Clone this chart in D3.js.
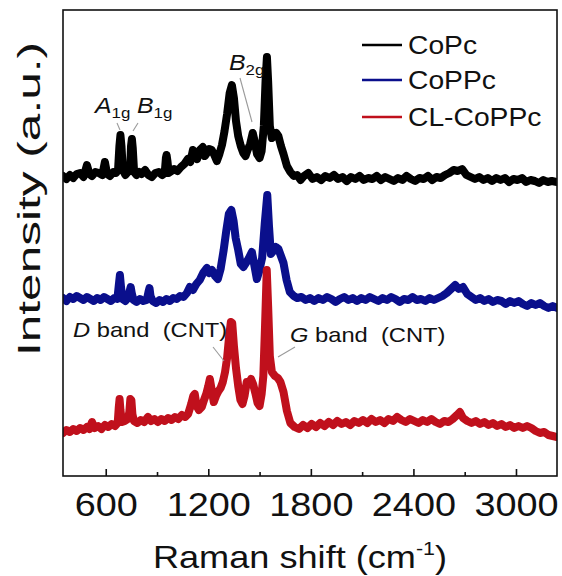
<!DOCTYPE html>
<html><head><meta charset="utf-8">
<script src="https://cdn.jsdelivr.net/npm/d3@7"></script>
<style>body{margin:0;background:#fff}svg{display:block}text{font-family:"Liberation Sans",Arial,sans-serif;fill:#111}</style>
</head><body><svg id="c" width="562" height="576"></svg>
<script>
// ---- data (Raman shift cm-1, stacked intensity a.u.) ----
const seriesNames = ["CoPc", "CoPPc", "CL-CoPPc"];
const seriesColors = ["#000000", "#0a0f8c", "#c0101c"];
const xTicks = [600, 1200, 1800, 2400, 3000];
const xMinorTicks = [900, 1500, 2100, 2700];
const copc = [[350,300],[370,297],[390,301],[410,298],[430,302],[450,303],[470,299],[490,311],[505,302],[520,300],[540,304],[560,303],[580,301],[595,314],[608,302],[625,300],[645,304],[660,303],[672,306],[680,330],[686,341],[692,330],[700,306],[715,301],[730,304],[742,305],[748,330],[753,337],[758,328],[766,304],[780,301],[795,304],[810,302],[830,306],[850,301],[870,299],[890,303],[910,304],[930,301],[945,303],[952,318],[956,321],[961,315],[968,303],[985,305],[1000,307],[1020,305],[1040,309],[1060,312],[1080,317],[1095,314],[1110,326],[1122,320],[1135,317],[1150,326],[1168,329],[1180,320],[1192,323],[1205,327],[1220,326],[1235,321],[1250,315],[1265,322],[1280,331],[1295,345],[1310,362],[1325,383],[1338,391],[1350,378],[1362,355],[1375,340],[1390,330],[1405,323],[1418,320],[1430,326],[1445,332],[1460,343],[1472,334],[1485,322],[1500,318],[1512,325],[1525,350],[1535,395],[1543,419],[1550,395],[1560,350],[1572,338],[1585,340],[1598,343],[1610,340],[1625,330],[1640,322],[1660,310],[1680,304],[1700,300],[1720,301],[1740,296],[1760,300],[1785,303],[1810,297],[1835,299],[1860,296],[1885,300],[1910,298],[1935,301],[1960,297],[1985,299],[2010,295],[2035,299],[2060,297],[2085,300],[2110,296],[2135,298],[2160,297],[2185,300],[2210,296],[2235,299],[2260,297],[2285,295],[2310,298],[2335,296],[2360,300],[2385,297],[2410,295],[2435,298],[2460,297],[2485,300],[2510,296],[2535,299],[2560,298],[2585,301],[2610,303],[2635,306],[2660,305],[2685,307],[2710,301],[2735,299],[2760,297],[2785,299],[2810,296],[2835,298],[2860,295],[2885,298],[2910,296],[2935,298],[2960,294],[2985,297],[3010,296],[3035,298],[3060,294],[3085,296],[3110,295],[3135,293],[3160,296],[3185,294],[3210,295],[3240,294]];
const coppc = [[350,178],[370,175],[390,179],[410,177],[430,180],[450,178],[470,176],[490,179],[510,177],[530,175],[550,178],[570,176],[590,179],[610,177],[630,175],[650,178],[668,177],[676,190],[683,201],[690,188],[698,177],[715,175],[730,178],[740,185],[746,189],[752,183],[762,176],[780,174],[800,177],[820,175],[840,176],[850,184],[856,188],[862,180],[875,175],[895,173],[915,176],[935,174],[955,177],[975,175],[995,178],[1015,177],[1035,180],[1055,179],[1075,183],[1092,189],[1110,186],[1130,192],[1150,196],[1170,203],[1192,208],[1205,203],[1221,206],[1240,200],[1256,197],[1272,207],[1290,226],[1305,245],[1320,262],[1335,266],[1348,255],[1360,238],[1375,226],[1390,212],[1405,209],[1420,213],[1435,217],[1455,224],[1468,212],[1484,197],[1498,205],[1515,218],[1530,252],[1545,281],[1555,250],[1566,222],[1580,225],[1595,229],[1610,227],[1625,220],[1640,213],[1658,196],[1677,184],[1700,180],[1720,178],[1745,179],[1770,176],[1795,178],[1820,175],[1845,178],[1870,176],[1895,179],[1920,177],[1945,174],[1970,177],[1995,179],[2020,176],[2045,178],[2070,175],[2095,178],[2120,176],[2145,179],[2170,177],[2195,175],[2220,178],[2245,176],[2270,179],[2295,177],[2320,174],[2345,177],[2370,176],[2395,179],[2420,176],[2445,177],[2470,175],[2495,178],[2520,176],[2545,178],[2570,180],[2595,183],[2620,187],[2645,191],[2665,187],[2690,189],[2715,182],[2740,179],[2765,176],[2790,178],[2815,175],[2840,177],[2865,174],[2890,176],[2915,175],[2940,172],[2965,175],[2990,173],[3015,175],[3040,172],[3065,170],[3090,173],[3115,171],[3140,173],[3165,170],[3190,168],[3215,170],[3240,168]];
const clcoppc = [[350,43],[370,46],[390,44],[410,47],[430,45],[450,48],[470,46],[490,49],[505,47],[520,54],[535,48],[555,50],[575,47],[595,51],[615,49],[635,52],[655,50],[670,53],[676,68],[681,77],[686,66],[695,54],[712,55],[730,57],[738,64],[744,77],[750,76],[756,62],[765,55],[785,53],[805,56],[825,54],[847,59],[865,55],[885,57],[905,54],[925,57],[945,55],[965,58],[985,56],[1005,59],[1025,57],[1045,61],[1065,59],[1082,62],[1100,72],[1112,80],[1121,82],[1132,70],[1145,66],[1162,69],[1175,76],[1188,82],[1200,90],[1209,97],[1220,86],[1232,74],[1245,80],[1260,85],[1272,88],[1285,94],[1298,104],[1310,118],[1322,140],[1332,154],[1340,153],[1350,130],[1362,108],[1375,90],[1388,76],[1400,72],[1412,80],[1425,94],[1438,92],[1450,97],[1462,92],[1475,83],[1488,73],[1500,70],[1512,82],[1522,100],[1532,150],[1542,206],[1550,170],[1560,120],[1572,104],[1590,100],[1607,98],[1622,94],[1640,84],[1660,65],[1680,53],[1705,49],[1730,47],[1755,51],[1780,48],[1805,52],[1830,49],[1855,53],[1880,50],[1905,54],[1930,51],[1955,55],[1980,52],[2005,54],[2030,51],[2055,55],[2080,53],[2105,56],[2130,53],[2155,57],[2180,54],[2205,56],[2230,53],[2255,57],[2280,55],[2305,59],[2330,56],[2355,54],[2380,57],[2405,55],[2430,53],[2455,56],[2480,54],[2505,57],[2530,54],[2555,52],[2580,55],[2605,54],[2630,57],[2655,61],[2672,64],[2690,58],[2715,55],[2740,53],[2765,55],[2790,52],[2815,54],[2840,51],[2865,53],[2890,50],[2915,52],[2940,49],[2965,51],[2990,48],[3015,50],[3040,48],[3065,50],[3090,48],[3115,45],[3140,43],[3165,44],[3190,41],[3215,40],[3240,39]];
const seriesData = [copc, coppc, clcoppc];

// ---- layout ----
const svg = d3.select("#c");
const L = 63, R = 557, T = 10, B = 476;
const x = d3.scaleLinear().domain([350, 3240]).range([L, R]);
const y = d3.scaleLinear().domain([0, 466]).range([B, T]);
const HS = 1.13; // horizontal text stretch

svg.append("clipPath").attr("id","clp").append("rect")
  .attr("x", L).attr("y", T).attr("width", R - L).attr("height", B - T);

const line = d3.line().x(d => x(d[0])).y(d => y(d[1]));
const g = svg.append("g").attr("clip-path","url(#clp)");
seriesData.forEach((d, i) => {
  g.append("path").datum(d).attr("d", line).attr("fill","none")
    .attr("stroke", seriesColors[i]).attr("stroke-width", 8)
    .attr("stroke-linejoin","round").attr("stroke-linecap","round");
});

// frame
svg.append("rect").attr("x", L).attr("y", T).attr("width", R - L).attr("height", B - T)
  .attr("fill","none").attr("stroke","#111").attr("stroke-width",1.6);

// axes
const ax = svg.append("g").attr("transform",`translate(0,${B})`)
  .call(d3.axisBottom(x).tickValues(xTicks).tickFormat(d3.format("d")).tickSizeInner(-7).tickSizeOuter(0).tickPadding(16));
ax.select(".domain").remove();
ax.selectAll("line").attr("stroke","#111").attr("stroke-width",1.6);
ax.selectAll("text").attr("font-size",33.5).attr("fill","#111")
  .attr("font-family","Liberation Sans, Arial, sans-serif").attr("transform",`scale(${HS},1)`);
const axm = svg.append("g").attr("transform",`translate(0,${B})`)
  .call(d3.axisBottom(x).tickValues(xMinorTicks).tickFormat("").tickSizeInner(-4).tickSizeOuter(0));
axm.select(".domain").remove();
axm.selectAll("line").attr("stroke","#111").attr("stroke-width",1.6);

// axis titles
const xt = svg.append("text").attr("transform",`translate(300,568) scale(${HS},1)`)
  .attr("text-anchor","middle").attr("font-size",32);
xt.append("tspan").text("Raman shift (cm");
xt.append("tspan").attr("font-size",19).attr("dy",-13).text("-1");
xt.append("tspan").attr("dy",13).text(")");

svg.append("text").attr("transform","translate(40,199) rotate(-90)")
  .attr("text-anchor","middle").attr("font-size",32)
  .attr("textLength",314).attr("lengthAdjust","spacingAndGlyphs")
  .text("Intensity (a.u.)");

// legend
const legY = [45, 80, 117];
seriesNames.forEach((n, i) => {
  svg.append("line").attr("x1",362).attr("x2",402).attr("y1",legY[i]).attr("y2",legY[i])
    .attr("stroke",seriesColors[i]).attr("stroke-width",2.5);
  svg.append("text").attr("transform",`translate(408,${legY[i]+8.5}) scale(${HS},1)`)
    .attr("font-size",25).text(n);
});

// annotations
function symLabel(px, py, main, sub, fs) {
  const t = svg.append("text").attr("transform",`translate(${px},${py}) scale(${HS},1)`).attr("font-size",fs);
  t.append("tspan").attr("font-style","italic").text(main);
  t.append("tspan").attr("font-size",fs*0.68).attr("dy",5).text(sub);
}
symLabel(95,113,"A","1g",22);
symLabel(137,113,"B","1g",22);
symLabel(229,70,"B","2g",22);
function bandLabel(px, py, main, rest) {
  const t = svg.append("text").attr("transform",`translate(${px},${py}) scale(${HS},1)`).attr("font-size",21);
  t.append("tspan").attr("font-style","italic").text(main);
  t.append("tspan").text(rest);
}
bandLabel(73,337,"D"," band\u00a0 (CNT)");
bandLabel(290,342,"G"," band\u00a0 (CNT)");
const leaders = [[117,123,120,130],[138,123,133,131],[240,78,252,122],[213,347,224,361],[295,347,278,357]];
leaders.forEach(l => svg.append("line").attr("x1",l[0]).attr("y1",l[1]).attr("x2",l[2]).attr("y2",l[3])
  .attr("stroke","#9a9a9a").attr("stroke-width",1.1));
</script></body></html>
